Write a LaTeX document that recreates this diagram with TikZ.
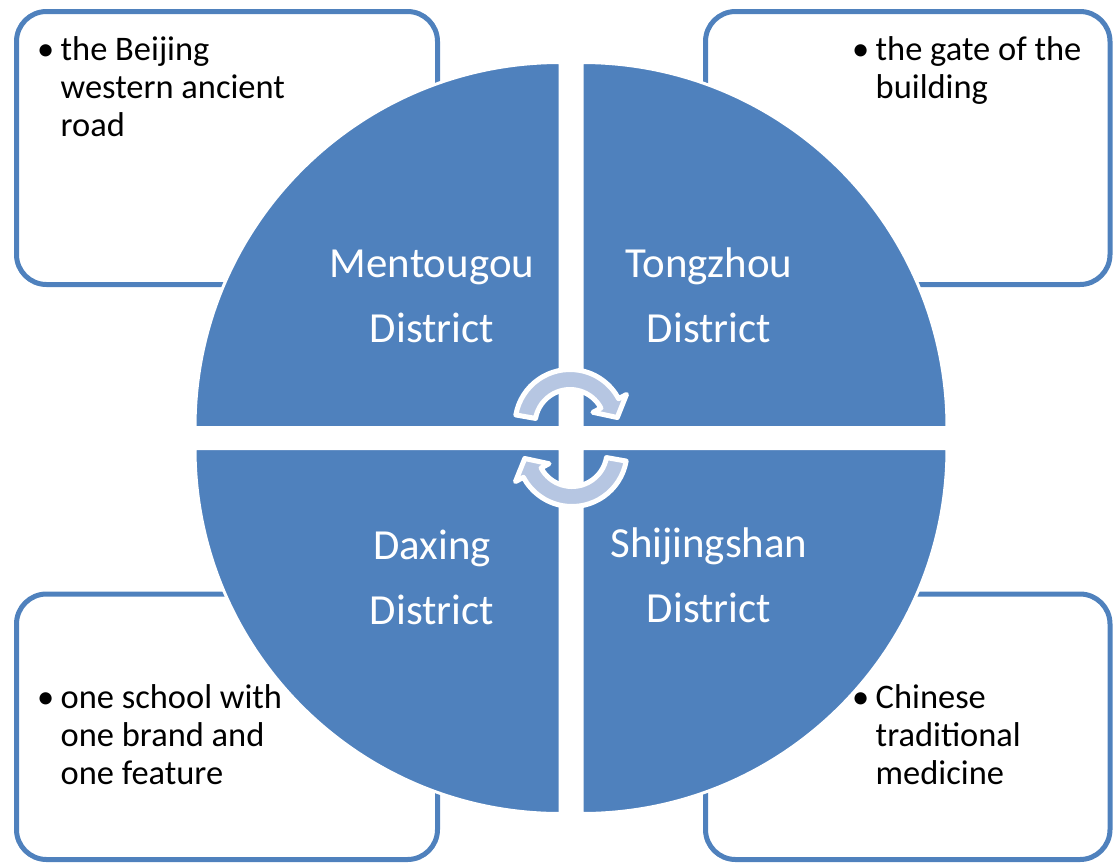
\documentclass[tikz,border=0pt]{standalone}
\usepackage{fontspec}
\setmainfont{Carlito}
\usetikzlibrary{calc}

\definecolor{quadblue}{HTML}{4F81BD}
\definecolor{arrowfill}{RGB}{182,198,226}

% curved arrow around a centre, #2 turns it
\newcommand{\cyclearrow}[2]{%
  \filldraw[turnarrow] ($(#1)+(#2+170:55)$) arc[start angle=#2+170, end angle=#2+28, radius=55]
    -- ($(#1)+(#2+28:64)$) -- ($(#1)+(#2+28:45)+(#2-62:16)$) -- ($(#1)+(#2+28:26)$)
    -- ($(#1)+(#2+28:35)$) arc[start angle=#2+28, end angle=#2+170, radius=35] -- cycle;}

\begin{document}
\begin{tikzpicture}[x=0.1mm, y=0.1mm]
    \tikzstyle{infobox} = [draw=quadblue, line width=0.5mm, rounded corners=3mm]
    \tikzstyle{quad} = [fill=quadblue, draw=white, line width=0.3mm]
    \tikzstyle{quadtext} = [text=white, align=center, inner sep=0pt, anchor=north, font=\fontsize{12.2}{18.4}\selectfont]
    \tikzstyle{notetext} = [align=left, inner sep=0pt, anchor=north west, font=\fontsize{9.8}{10.8}\selectfont]
    \tikzstyle{turnarrow} = [fill=arrowfill, draw=white, line width=0.5mm, line join=round]

    \useasboundingbox (0,0) rectangle (1113,-862);
    \clip (0,0) rectangle (1113,-862);

    % Note boxes
    \draw[infobox] (16.5,-11.5) rectangle (437.5,-284.5);
    \draw[infobox] (705.5,-11.5) rectangle (1110,-284.5);
    \draw[infobox] (16.5,-594) rectangle (437.5,-859.5);
    \draw[infobox] (705.5,-594) rectangle (1110,-859.5);

    % Quarter pies
    \filldraw[quad] (560,-427.5) -- ++(0,365) arc[start angle=90, end angle=180, radius=365] -- cycle;
    \filldraw[quad] (582,-427.5) -- ++(365,0) arc[start angle=0, end angle=90, radius=365] -- cycle;
    \filldraw[quad] (560,-448.5) -- ++(-365,0) arc[start angle=180, end angle=270, radius=365] -- cycle;
    \filldraw[quad] (582,-448.5) -- ++(0,-365) arc[start angle=270, end angle=360, radius=365] -- cycle;

    % District names
    \node[quadtext] (mentougou) at (432,-249.5) {Mentougou\\District};
    \node[quadtext] (tongzhou) at (709,-247.5) {Tongzhou\\District};
    \node[quadtext] (daxing) at (432,-529.5) {Daxing\\District};
    \node[quadtext] (shijingshan) at (709,-527.5) {Shijingshan\\District};

    % Notes
    \node[notetext] (roadtxt) at (60,-36) {\llap{•\hspace{1.8pt}}the Beijing\\western ancient\\road};
    \node[notetext] (gatetxt) at (875,-36) {\llap{•\hspace{1.8pt}}the gate of the\\building};
    \node[notetext] (schooltxt) at (60,-684) {\llap{•\hspace{1.8pt}}one school with\\one brand and\\one feature};
    \node[notetext] (medtxt) at (875,-684) {\llap{•\hspace{1.8pt}}Chinese\\traditional\\medicine};

    % Turning arrows
    \coordinate (upc) at (570,-424.5);
    \coordinate (lowc) at (572,-451.5);
    \cyclearrow{upc}{0}
    \cyclearrow{lowc}{180}

\end{tikzpicture}
\end{document}
